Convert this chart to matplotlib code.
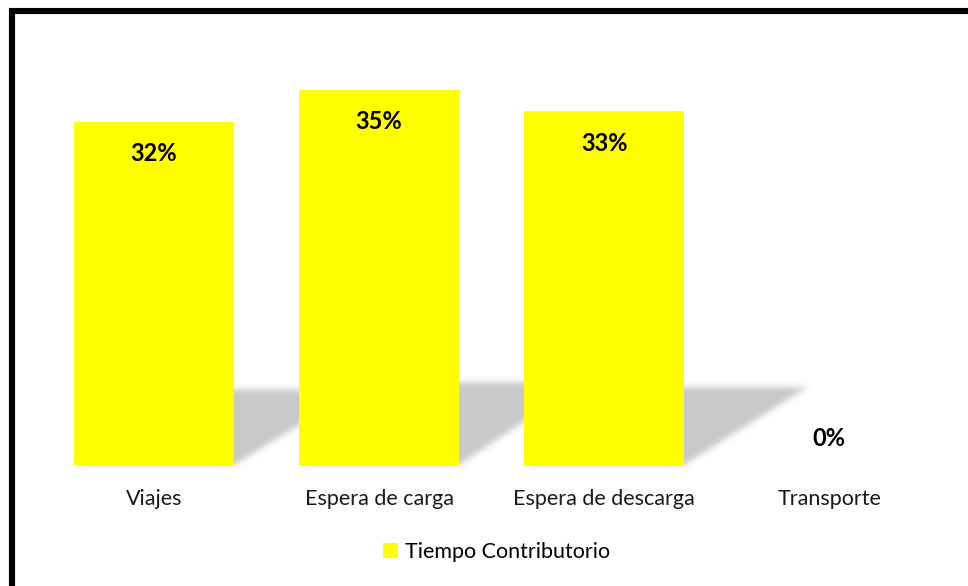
import numpy as np
import matplotlib
matplotlib.use("Agg")
import matplotlib.pyplot as plt
from matplotlib.patches import Polygon, Rectangle
from matplotlib.collections import PatchCollection

categories = ["Viajes", "Espera de carga", "Espera de descarga", "Transporte"]
valores = [0.32, 0.35, 0.33, 0.0]
serie = "Tiempo Contributorio"

plt.rcParams["font.family"] = ["Lato", "DejaVu Sans"]

BAR_W = 0.71
SHADOW_SKEW = 0.55     # horizontal lean of the cast shadow, in category units
SHADOW_SCALE = 0.22    # shadow height relative to the bar
SHADOW_RGB = (0.79, 0.79, 0.79)


def _box(a, r, axis):
    k = 2 * r + 1
    pad = [(r + 1, r) if i == axis else (0, 0) for i in range(a.ndim)]
    c = np.cumsum(np.pad(a, pad), axis=axis)
    n = c.shape[axis]
    return (np.take(c, range(k, n), axis=axis) - np.take(c, range(0, n - k), axis=axis)) / k


def soft_shadow(im, dpi):
    # recolour the drawn polygons and blur their alpha
    r = max(1, int(round(3.0 * dpi / 100)))
    pad = 4 * r
    a = np.pad(im[..., 3], pad)
    for _ in range(2):
        a = _box(_box(a, r, 0), r, 1)
    out = np.zeros(a.shape + (4,))
    out[..., 0], out[..., 1], out[..., 2] = SHADOW_RGB
    out[..., 3] = np.clip(a, 0, 1)
    return out, -pad, -pad


fig = plt.figure(figsize=(9.68, 5.86), dpi=100)
ax = fig.add_axes([0.0429, 0.2065, 0.9298, 0.732])

x = np.arange(len(categories))

shadows = []
for xi, v in zip(x, valores):
    if v <= 0:
        continue
    h = v * SHADOW_SCALE
    shadows.append(Polygon([(xi - BAR_W / 2, 0), (xi + BAR_W / 2, 0),
                            (xi + BAR_W / 2 + SHADOW_SKEW, h),
                            (xi - BAR_W / 2 + SHADOW_SKEW, h)]))
pc = PatchCollection(shadows, facecolor="k", edgecolor="none", zorder=1)
pc.set_agg_filter(soft_shadow)
pc.set_rasterized(True)
ax.add_collection(pc)

bars = ax.bar(x, valores, width=BAR_W, color="#ffff00", zorder=2, label=serie)

for xi, v in zip(x, valores):
    dy = -23 if v > 0 else 19
    ax.annotate(f"{v:.0%}", (xi, v), xytext=(0, dy), textcoords="offset points",
                ha="center", va="center", fontsize=17, fontweight="bold",
                color="black", zorder=3)

ax.set_xlim(-0.5, len(categories) - 0.5)
ax.set_ylim(0, 0.40)
ax.set_xticks(x)
ax.set_xticklabels(categories, fontsize=15.5, color="#1a1a1a")
ax.tick_params(axis="x", length=0, pad=17)
ax.set_yticks([])
for s in ax.spines.values():
    s.set_visible(False)

fig.legend(handles=[bars], labels=[serie], loc="center",
           bbox_to_anchor=(0.513, 0.058), frameon=False, fontsize=15.5,
           handlelength=0.7, handleheight=0.7, handletextpad=0.3)

# chart frame, only its top and left edges fall inside the image
fig.patches.append(Rectangle((12 / 968, -0.1), 1.2, 1 - 11 / 586 + 0.1,
                             transform=fig.transFigure, fill=False,
                             edgecolor="black", linewidth=4.4, clip_on=False))

fig.savefig("out.png", dpi=100)
